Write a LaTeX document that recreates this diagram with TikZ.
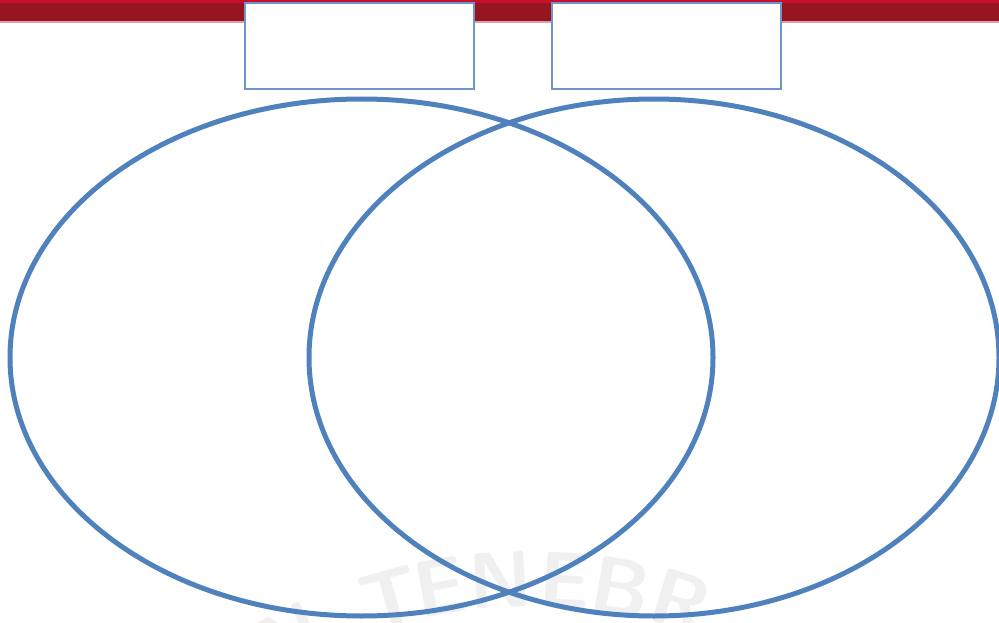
\documentclass[tikz,border=0pt]{standalone}
\usetikzlibrary{shapes.geometric}
\definecolor{barred}{HTML}{97151F}
\definecolor{bartop}{HTML}{C8102E}
\definecolor{barline}{HTML}{D8A2AA}
\definecolor{vennblue}{HTML}{4F81BD}
\definecolor{boxblue}{HTML}{6E95CC}
\definecolor{wmark}{HTML}{F0F0F0}
\begin{document}
\begin{tikzpicture}[x=1pt,y=-1pt,
  labelbox/.style={draw=boxblue,line width=1.3pt,fill=white,rectangle,inner sep=0pt,
    minimum width=229pt,minimum height=86pt},
  venn/.style={draw=vennblue,line width=5pt,ellipse,inner sep=0pt},
  wm/.style={text=wmark,font=\fontsize{80}{80}\selectfont\sffamily\bfseries,inner sep=0pt}]
\useasboundingbox (0,0) rectangle (999,623);
\clip (0,0) rectangle (999,623);
% watermark letters along an arc
\foreach \l/\a [count=\i] in {N/-27.2,T/-15.4,E/-9.9,N/-3.2,E/3.8,B/10.0,R/16.6}{
  \node[wm,rotate=-\a] (wm\i) at ({530+525*sin(\a)},{1104-525*cos(\a)}) {\l};
}
% top bar
\fill[barred] (0,0) rectangle (999,22);
\fill[bartop] (0,0) rectangle (999,3.5);
\fill[barline] (0,21.5) rectangle (999,23);
% label boxes
\node[labelbox] (boxA) at (359.5,46) {};
\node[labelbox] (boxB) at (666.5,46) {};
% venn ellipses
\node[venn,minimum width=703pt,minimum height=517pt] (setA) at (361.5,357.5) {};
\node[venn,minimum width=690pt,minimum height=517pt] (setB) at (654,357.5) {};
\end{tikzpicture}
\end{document}
